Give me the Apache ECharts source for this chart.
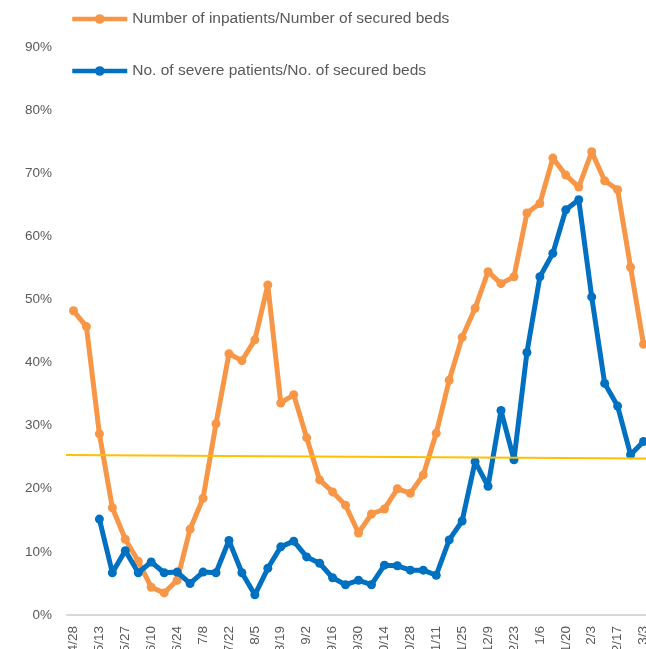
<!DOCTYPE html>
<html>
<head>
<meta charset="utf-8">
<script src="https://cdn.jsdelivr.net/npm/echarts@6/dist/echarts.min.js"></script>
<style>
html,body{margin:0;padding:0;background:#fff;overflow:hidden;}
#chart{width:646px;height:649px;}
</style>
</head>
<body>
<div id="chart"></div>
<script>
var categories = ['4/28','5/6','5/13','5/20','5/27','6/3','6/10','6/17','6/24','7/1','7/8','7/15','7/22','7/29','8/5','8/12','8/19','8/26','9/2','9/9','9/16','9/23','9/30','10/7','10/14','10/21','10/28','11/4','11/11','11/18','11/25','12/2','12/9','12/16','12/23','12/30','1/6','1/13','1/20','1/27','2/3','2/10','2/17','2/24','3/3'];

var inpatientsRatio = [48.2,45.7,28.7,17.0,12.0,8.5,4.4,3.5,5.5,13.6,18.5,30.3,41.4,40.3,43.6,52.3,33.6,34.9,28.1,21.4,19.5,17.4,13.0,16.0,16.8,20.0,19.3,22.2,28.8,37.2,44.0,48.6,54.4,52.5,53.6,63.7,65.2,72.4,69.7,67.8,73.4,68.8,67.4,55.1,42.9];

var severeRatio = [null,null,15.2,6.7,10.2,6.7,8.4,6.7,6.8,5.0,6.8,6.7,11.8,6.7,3.2,7.4,10.8,11.7,9.2,8.2,5.9,4.8,5.5,4.8,7.9,7.8,7.1,7.1,6.3,11.9,14.9,24.3,20.4,32.4,24.6,41.6,53.6,57.3,64.2,65.8,50.4,36.7,33.1,25.4,27.5];

var thresholdX = [-2.0, 44.5];
var thresholdY = [25.35, 24.8];

var yTicks = {min: 0, max: 90, interval: 10};

var seriesNames = ['Number of inpatients/Number of secured beds', 'No. of severe patients/No. of secured beds'];

var chart = echarts.init(document.getElementById('chart'), null, {renderer: 'canvas'});
var fontFamily = 'Liberation Sans, Arial, sans-serif';

chart.setOption({
  animation: false,
  backgroundColor: '#ffffff',
  legend: {
    data: seriesNames,
    orient: 'vertical',
    left: 70,
    top: 11,
    padding: 0,
    itemWidth: 55,
    itemHeight: 12,
    itemGap: 36,
    lineStyle: {width: 4.5},
    textStyle: {fontFamily: fontFamily, fontSize: 15.5, color: '#595959'}
  },
  grid: {left: 67, top: 47, bottom: 34, width: 583, containLabel: false, outerBoundsMode: 'none'},
  xAxis: [{
    type: 'category',
    data: categories,
    boundaryGap: true,
    axisLine: {show: true, lineStyle: {color: '#d9d9d9', width: 2}},
    axisTick: {show: false},
    axisLabel: {interval: 1, rotate: 90, margin: 11, fontFamily: fontFamily, fontSize: 13.5, color: '#595959'}
  }, {
    type: 'value',
    min: -0.5,
    max: categories.length - 0.5,
    show: false
  }],
  yAxis: [{
    type: 'value',
    min: yTicks.min,
    max: yTicks.max,
    interval: yTicks.interval,
    axisLine: {show: false},
    axisTick: {show: false},
    splitLine: {show: false},
    axisLabel: {formatter: '{value}%', margin: 15, fontFamily: fontFamily, fontSize: 13.5, color: '#595959'}
  }],
  series: [{
    name: seriesNames[0],
    type: 'line',
    data: inpatientsRatio,
    symbol: 'circle',
    symbolSize: 9,
    showAllSymbol: true,
    lineStyle: {color: '#F79646', width: 5},
    itemStyle: {color: '#F79646'},
    z: 3
  }, {
    name: seriesNames[1],
    type: 'line',
    data: severeRatio,
    symbol: 'circle',
    symbolSize: 9,
    showAllSymbol: true,
    lineStyle: {color: '#0070C0', width: 5},
    itemStyle: {color: '#0070C0'},
    z: 4
  }, {
    name: 'threshold',
    type: 'line',
    xAxisIndex: 1,
    data: thresholdX.map(function (x, i) { return [x, thresholdY[i]]; }),
    symbol: 'none',
    clip: false,
    lineStyle: {color: '#FFC000', width: 2},
    z: 5,
    silent: true
  }]
});
</script>
</body>
</html>
